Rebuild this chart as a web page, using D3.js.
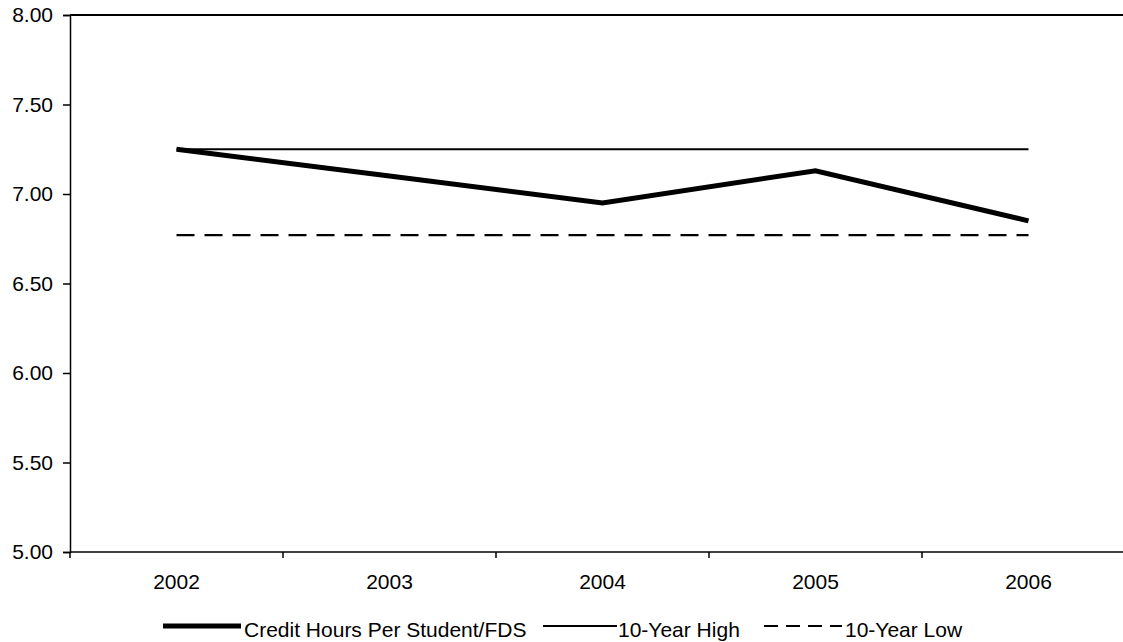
<!DOCTYPE html>
<html><head><meta charset="utf-8">
<script src="https://cdn.jsdelivr.net/npm/d3@7"></script>
<style>html,body{margin:0;padding:0;background:#fff;overflow:hidden}text{font-family:"Liberation Sans",Arial,sans-serif;fill:#000}</style>
</head><body>
<svg id="c" width="1123" height="642"></svg>
<script>
const years = ["2002","2003","2004","2005","2006"];
const creditHours = [7.25, 7.10, 6.95, 7.13, 6.85];
const tenYearHigh = [7.25, 7.25, 7.25, 7.25, 7.25];
const tenYearLow = [6.77, 6.77, 6.77, 6.77, 6.77];
const yTicks = [5.0, 5.5, 6.0, 6.5, 7.0, 7.5, 8.0];
const seriesNames = ["Credit Hours Per Student/FDS", "10-Year High", "10-Year Low"];

const svg = d3.select("#c");
const L = 70, R = 1135, T = 15, B = 552;
const x = d3.scaleBand().domain(years).range([L, R]);
const y = d3.scaleLinear().domain([5, 8]).range([B, T]);
const fs = 21;

// y axis
const ya = svg.append("g").attr("transform", `translate(${L},0)`)
  .call(d3.axisLeft(y).tickValues(yTicks).tickFormat(d3.format(".2f")).tickSize(7).tickPadding(10));
ya.select(".domain").attr("stroke", "#000").attr("stroke-width", 1.5);
ya.selectAll(".tick line").attr("stroke", "#000").attr("stroke-width", 1.5);
ya.selectAll("text").style("font-size", fs + "px").attr("font-family", "Liberation Sans, Arial");

// top border
svg.append("line").attr("x1", L).attr("x2", 1123).attr("y1", y(8)).attr("y2", y(8))
  .attr("stroke", "#000").attr("stroke-width", 2);

// x axis
const xa = svg.append("g").attr("transform", `translate(0,${B})`)
  .call(d3.axisBottom(x).tickSize(0).tickPadding(22));
xa.select(".domain").remove();
svg.append("line").attr("x1", L).attr("x2", 1123).attr("y1", B).attr("y2", B)
  .attr("stroke", "#000").attr("stroke-width", 1.5);
svg.append("g").selectAll("line").data(years.concat(["end"])).join("line")
  .attr("x1", (d, i) => L + i * x.bandwidth()).attr("x2", (d, i) => L + i * x.bandwidth())
  .attr("y1", B).attr("y2", B + 6).attr("stroke", "#000").attr("stroke-width", 1.5);
xa.selectAll("text").style("font-size", fs + "px").attr("font-family", "Liberation Sans, Arial");

const cx = d => x(d) + x.bandwidth() / 2;
const line = d3.line().x((d, i) => cx(years[i])).y(d => y(d));

svg.append("path").datum(tenYearHigh).attr("d", line).attr("fill", "none")
  .attr("stroke", "#000").attr("stroke-width", 2);
svg.append("path").datum(tenYearLow).attr("d", line).attr("fill", "none")
  .attr("stroke", "#000").attr("stroke-width", 2.2).attr("stroke-dasharray", "18,10");
svg.append("path").datum(creditHours).attr("d", line).attr("fill", "none")
  .attr("stroke", "#000").attr("stroke-width", 5);

// legend
const ly = 626, lt = 637;
const leg = [
  {x1: 163, x2: 241, w: 5, dash: null, tx: 244},
  {x1: 543, x2: 617, w: 2, dash: null, tx: 618},
  {x1: 764, x2: 842, w: 2.2, dash: "14,8", tx: 845}
];
leg.forEach((l, i) => {
  svg.append("line").attr("x1", l.x1).attr("x2", l.x2).attr("y1", ly).attr("y2", ly)
    .attr("stroke", "#000").attr("stroke-width", l.w).attr("stroke-dasharray", l.dash);
  svg.append("text").attr("x", l.tx).attr("y", lt)
    .style("font-size", "21px").text(seriesNames[i]);
});
</script>
</body></html>
